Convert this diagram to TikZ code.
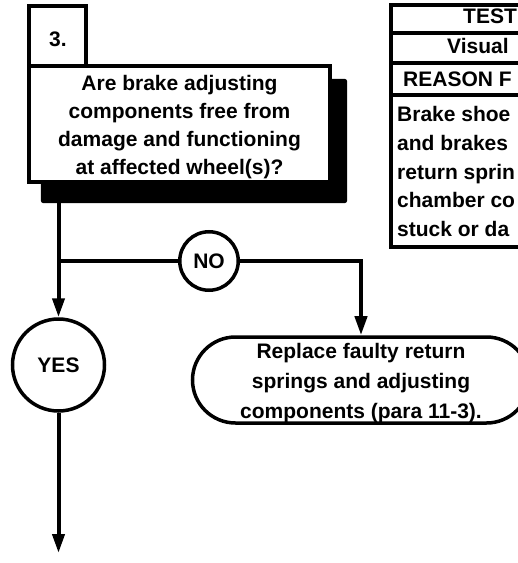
\documentclass[tikz,border=0pt]{standalone}
\usepackage{fontspec}
\setmainfont{Liberation Sans}
\usetikzlibrary{arrows.meta,shapes.misc}
\begin{document}
\begin{tikzpicture}[x=1bp,y=-1bp,
  every node/.style={font=\fontsize{21bp}{28bp}\selectfont\bfseries, inner sep=0pt},
  line/.style={line width=4bp},
  frame/.style={draw, rectangle, line width=4bp, fill=white},
  ring/.style={draw, circle, line width=3.5bp, fill=white},
  stadium/.style={draw, rounded rectangle, line width=3.5bp, fill=white},
  words/.style={align=center},
  flow/.style={line width=4bp, -{Triangle[length=19bp,width=12bp]}},
  cell/.style={anchor=base west}]
\useasboundingbox (0,0) rectangle (518,563);
\clip (0,0) rectangle (518,563);

% decision step with its drop shadow
\node[fill=black, rounded corners=2bp, minimum width=306bp, minimum height=124bp] (qshadow) at (194,141) {};
\coordinate (j) at (58.5,261);
\draw[line] (qshadow.south -| j) -- (j);
\node[frame, minimum width=301bp, minimum height=116bp] (q) at (179.5,124) {};
\node[words] (qtext) at (179.5,127) {Are brake adjusting\\components free from\\damage and functioning\\at affected wheel(s)?};
\node[frame, minimum width=57bp, minimum height=60bp] (num) at (57.5,36) {};
\node (numtext) at (58,39) {3.};

% test / reason table
\draw[line] (600,5) -- (391,5) -- (391,246.5) -- (600,246.5);
\draw[line] (391,33.5) -- (600,33.5);
\draw[line] (391,63.5) -- (600,63.5);
\draw[line] (391,95) -- (600,95);
\node[cell] (h1) at (463,24) {TEST};
\node[cell] (h2) at (447,54) {Visual};
\node[cell] (h3) at (403,87) {REASON F};
\node[cell] (r1) at (397,122) {Brake shoe};
\node[cell] (r2) at (397,150.5) {and brakes};
\node[cell] (r3) at (397,179) {return sprin};
\node[cell] (r4) at (397,207.5) {chamber co};
\node[cell] (r5) at (397,236) {stuck or da};

% answers
\node[ring, minimum size=58.5bp] (no) at (209,261) {NO};
\node[ring, minimum size=92bp] (yes) at (58.5,365) {YES};
\node[stadium, minimum width=337bp, minimum height=86bp] (rep) at (361,380) {};
\node[words, font=\fontsize{21bp}{30bp}\selectfont\bfseries] (reptext) at (361,383)
  {Replace faulty return\\springs and adjusting\\components (para 11-3).};
\coordinate (end) at (58.5,553);

\draw[line] (j) -- (no);
\draw[flow] (j) -- (yes);
\draw[flow] (no) -| (rep);
\draw[flow] (yes) -- (end);
\end{tikzpicture}
\end{document}
